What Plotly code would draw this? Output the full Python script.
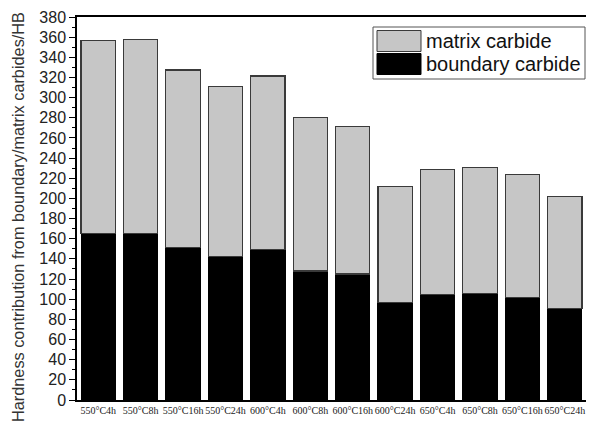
import plotly.graph_objects as go

categories = ["550°C4h", "550°C8h", "550°C16h", "550°C24h", "600°C4h", "600°C8h",
              "600°C16h", "600°C24h", "650°C4h", "650°C8h", "650°C16h", "650°C24h"]
boundary = [165, 165.5, 151, 142, 149.5, 128, 125, 97, 104.5, 106, 101.5, 91]
total = [356.5, 357.5, 327.5, 311, 321.5, 280, 271, 212, 228.5, 231, 224, 202]
matrix = [t - b for t, b in zip(total, boundary)]
y_ticks = list(range(0, 381, 20))

# page body has an 8px margin; figure is sized to fit in the 594x421 window
OFF = 8
W, H = 594 - OFF, 421 - OFF
# plot area in window pixels: x 77..586, y 17..400
L, T = 77 - OFF, 17 - OFF
R, B = W - (586 - OFF), H - (400 - OFF)
PW, PH = W - L - R, H - T - B


def px(xw):
    return (xw - OFF - L) / PW


def py(yw):
    return (H - B - (yw - OFF)) / PH


fig = go.Figure()
fig.add_trace(go.Bar(x=list(range(len(categories))), y=boundary, name="boundary carbide",
                     marker=dict(color="#000000", line=dict(color="#000000", width=1)),
                     showlegend=False))
fig.add_trace(go.Bar(x=list(range(len(categories))), y=matrix, name="matrix carbide",
                     marker=dict(color="#c6c6c6", line=dict(color="#3a3a3a", width=1.2)),
                     showlegend=False))

fig.update_layout(
    barmode="stack",
    bargap=0.19,
    width=W, height=H,
    margin=dict(l=L, r=R, t=T, b=B, autoexpand=False),
    plot_bgcolor="white", paper_bgcolor="white",
    font=dict(family="Liberation Sans, Arial, sans-serif", color="#222"),
    xaxis=dict(
        range=[-0.5, 11.5], automargin=False,
        tickmode="array", tickvals=list(range(len(categories))), ticktext=categories,
        tickangle=0,
        tickfont=dict(family="Liberation Serif, Times New Roman, serif", size=10, color="#222"),
        showline=True, linecolor="#000", linewidth=1.5, mirror=True,
        ticks="", showgrid=False, zeroline=False,
    ),
    yaxis=dict(
        range=[0, 380], automargin=False,
        tickmode="array", tickvals=y_ticks,
        tickfont=dict(size=16, color="#222"),
        showline=True, linecolor="#000", linewidth=1.5, mirror=True,
        ticks="outside", ticklen=6, tickwidth=1.2, tickcolor="#000",
        minor=dict(ticks="outside", ticklen=3, tickwidth=1, tickcolor="#000", dtick=10, tick0=0),
        showgrid=False, zeroline=False,
    ),
)

# y-axis title as rotated annotation
fig.add_annotation(text="Hardness contribution from boundary/matrix carbides/HB",
                   xref="paper", yref="paper",
                   x=px(18), y=py(217),
                   xanchor="center", yanchor="middle", textangle=-90, showarrow=False,
                   font=dict(size=16.3, color="#333"))

# custom legend box
fig.add_shape(type="rect", xref="paper", yref="paper",
              x0=px(373), x1=px(585), y0=py(79), y1=py(27),
              line=dict(color="#555", width=1), fillcolor="white")
legend_items = [("matrix carbide", "#c6c6c6", "#3a3a3a", 41),
                ("boundary carbide", "#000000", "#000000", 64)]
for text, fill, edge, yc in legend_items:
    fig.add_shape(type="rect", xref="paper", yref="paper",
                  x0=px(377), x1=px(421), y0=py(yc + 10.5), y1=py(yc - 10.5),
                  line=dict(color=edge, width=1), fillcolor=fill)
    fig.add_annotation(text=text, xref="paper", yref="paper",
                       x=px(424), y=py(yc),
                       xanchor="left", yanchor="middle", showarrow=False,
                       font=dict(size=20, color="#111"))

fig.write_html("out.html")
